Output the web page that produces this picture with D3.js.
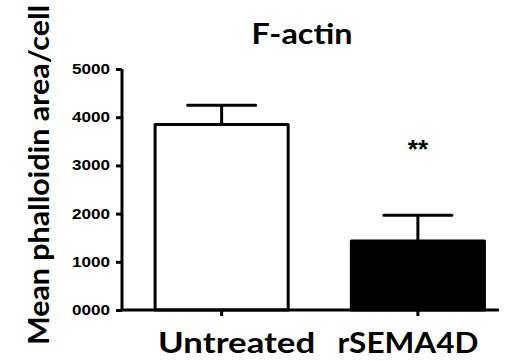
<!DOCTYPE html>
<html>
<head>
<meta charset="utf-8">
<script src="https://cdn.jsdelivr.net/npm/d3@7"></script>
<style>
  body { margin: 0; background: #fff; }
  .lbl { font-family: Lato, "Open Sans", sans-serif; font-weight: bold; }
  .tick text { font-family: "Liberation Sans", Arial, sans-serif; font-weight: bold; }
</style>
</head>
<body>
<div id="target"></div>
<script>
let categories = ["Untreated", "rSEMA4D"]
let means = [3850, 1430]
let errors = [400, 535]
let fills = ["#ffffff", "#000000"]
let yTicks = [0, 1000, 2000, 3000, 4000, 5000]
let yTickLabels = ["0000", "1000", "2000", "3000", "4000", "5000"]
let significance = ["", "**"]

let width = 523,
  height = 361,
  margin = {
    top: 69,
    right: 23,
    bottom: 51,
    left: 122
  }

let svg = d3.select("#target").append("svg")
  .attr("width", width)
  .attr("height", height)

let g = svg.append("g")
  .attr("transform", "translate(" + margin.left + "," + margin.top + ")");

let innerW = width - margin.left - margin.right,
  innerH = height - margin.top - margin.bottom

let x = d3.scaleBand()
  .domain(categories)
  .range([0, innerW])
  .paddingInner(0.322)
  .paddingOuter(0.124)
  .align(0.68)

let y = d3.scaleLinear().domain([0, 5000]).range([innerH, 0])

let xAxis = d3.axisBottom(x).tickSize(6).tickFormat("")
let yAxis = d3.axisLeft(y)
  .tickValues(yTicks)
  .tickSize(6)
  .tickPadding(6)
  .tickFormat((d, i) => yTickLabels[i])

// bars
g.selectAll(".bar")
  .data(categories)
  .enter().append("rect")
  .attr("class", "bar")
  .attr("x", d => x(d))
  .attr("width", x.bandwidth())
  .attr("y", (d, i) => y(means[i]))
  .attr("height", (d, i) => innerH - y(means[i]))
  .style("fill", (d, i) => fills[i])
  .style("stroke", "#000")
  .style("stroke-width", 3)
  .style("stroke-linejoin", "round")

// error bars
let capW = 68
g.selectAll(".err")
  .data(categories)
  .enter().append("path")
  .attr("class", "err")
  .attr("d", (d, i) => {
    let cx = x(d) + x.bandwidth() / 2
    let top = y(means[i] + errors[i])
    return "M" + cx + "," + y(means[i]) + "V" + top +
      "M" + (cx - capW / 2) + "," + top + "H" + (cx + capW / 2)
  })
  .style("fill", "none")
  .style("stroke", "#000")
  .style("stroke-width", 3)
  .style("stroke-linecap", "round")

// significance stars
g.selectAll(".sig")
  .data(categories)
  .enter().append("text")
  .attr("class", "sig")
  .attr("x", d => x(d) + x.bandwidth() / 2)
  .attr("y", y(3150))
  .attr("text-anchor", "middle")
  .style("font-family", "'Liberation Sans', Arial, sans-serif")
  .style("font-weight", "bold")
  .style("font-size", "26px")
  .text((d, i) => significance[i])

let ax = g.append("g")
  .attr("class", "x axis")
  .attr("transform", "translate(0," + innerH + ")")
  .call(xAxis)
ax.select(".domain").attr("d", "M0,0H" + (innerW - 1))

let ay = g.append("g")
  .attr("class", "y axis")
  .call(yAxis)
ay.select(".domain").attr("d", "M0,0V" + innerH)

g.selectAll(".axis path, .axis line")
  .style("stroke", "#000")
  .style("stroke-width", 3)
ay.selectAll("text")
  .style("font-size", "14px")
  .attr("textLength", 38)
  .attr("lengthAdjust", "spacingAndGlyphs")

// category labels
let catLen = [157, 141]
let catShift = [15, -10]
g.selectAll(".cat")
  .data(categories)
  .enter().append("text")
  .attr("class", "lbl cat")
  .attr("x", (d, i) => x(d) + x.bandwidth() / 2 + catShift[i])
  .attr("y", innerH + 43)
  .attr("text-anchor", "middle")
  .attr("textLength", (d, i) => catLen[i])
  .attr("lengthAdjust", "spacingAndGlyphs")
  .style("font-size", "29px")
  .text(d => d)

svg.append("text")
  .attr("class", "lbl")
  .attr("x", 302)
  .attr("y", 44)
  .attr("text-anchor", "middle")
  .attr("textLength", 101)
  .attr("lengthAdjust", "spacingAndGlyphs")
  .style("font-size", "29px")
  .text("F-actin")

svg.append("text")
  .attr("class", "lbl")
  .attr("transform", "translate(49,175) rotate(-90)")
  .attr("text-anchor", "middle")
  .attr("textLength", 340)
  .attr("lengthAdjust", "spacingAndGlyphs")
  .style("font-size", "29px")
  .text("Mean phalloidin area/cell")
</script>
</body>
</html>
